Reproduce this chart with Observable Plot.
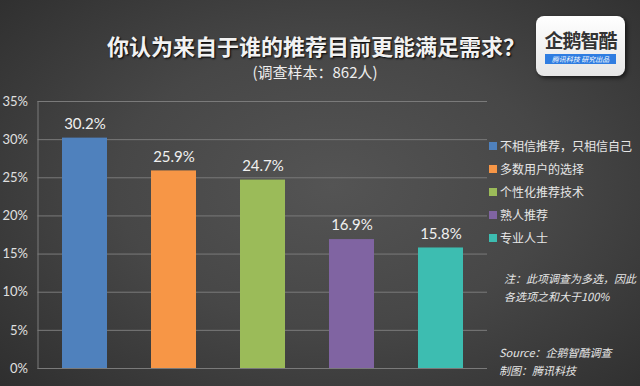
<!DOCTYPE html>
<html><head><meta charset="utf-8">
<script src="https://cdn.jsdelivr.net/npm/d3@7"></script>
<script src="https://cdn.jsdelivr.net/npm/@observablehq/plot@0.6"></script>
<style>
html,body{margin:0;padding:0;}
body{width:640px;height:386px;overflow:hidden;font-family:Lato,"Noto Sans CJK SC",sans-serif;}
#wrap{position:relative;width:640px;height:386px;background:radial-gradient(ellipse 75% 80% at 52% 48%,#545454 0%,#474747 45%,#2c2c2c 100%);}
#chart{position:absolute;left:0;top:0;}
.abs{position:absolute;white-space:nowrap;color:#eee;}
#title{left:0;width:632px;top:29px;text-align:center;font-size:22px;font-weight:bold;font-family:"Noto Sans CJK SC",sans-serif;color:#f2f2f2;text-shadow:1px 1px 2px #000;}
#subtitle{left:0;width:630px;top:61px;text-align:center;font-size:15px;font-family:"Noto Sans CJK SC",sans-serif;color:#eee;}
#legend{left:489px;top:134px;font-size:12px;font-family:"Noto Sans CJK SC",sans-serif;color:#e6e6e6;}
#legend .it{height:23px;line-height:18px;display:flex;align-items:center;}
#legend .sw{width:8px;height:8px;margin-right:3px;display:inline-block;}
.note{font-style:italic;font-size:11px;font-family:"Noto Sans CJK SC",sans-serif;color:#e6e6e6;}
#logo{left:536px;top:16px;width:89px;height:60px;background:linear-gradient(#ffffff,#e6e6e6);border-radius:8px;box-shadow:2px 2px 4px rgba(0,0,0,.6);}
#logo .t{position:absolute;left:0;width:89px;top:13px;text-align:center;font-size:19px;font-weight:bold;color:#333;font-family:"Noto Sans CJK SC",sans-serif;line-height:22px;letter-spacing:-1px;}
#logo .b{position:absolute;left:9px;width:71px;top:38px;height:10px;background:#2f7de1;color:#fff;font-size:7px;line-height:10px;text-align:center;font-style:italic;font-family:"Noto Sans CJK SC",sans-serif;}
</style></head>
<body><div id="wrap"><div id="chart"></div></div>
<script>
const categories = ["不相信推荐，只相信自己","多数用户的选择","个性化推荐技术","熟人推荐","专业人士"];
const values = [30.2, 25.9, 24.7, 16.9, 15.8];
const colors = ["#4F81BD","#F79646","#9BBB59","#8064A2","#3DBDB1"];
const yTicks = [0,5,10,15,20,25,30,35];
const titleText = "你认为来自于谁的推荐目前更能满足需求？";
const subtitleText = "(调查样本：862人)";
const noteLines = ["注：此项调查为多选，因此","各选项之和大于100%"];
const sourceLines = ["Source：企鹅智酷调查","制图：腾讯科技"];
const logoTitle = "企鹅智酷";
const logoBar = "腾讯科技  研究出品";

const data = categories.map((c,i)=>({category:c, value:values[i]}));

const chart = Plot.plot({
  width:640, height:386,
  marginLeft:37.5, marginRight:153, marginTop:101, marginBottom:18,
  style:{background:"transparent", fontFamily:"Lato, 'Noto Sans CJK SC', sans-serif"},
  x:{domain:categories, paddingInner:0.5, paddingOuter:0.25, axis:null},
  y:{domain:[0,35], axis:null},
  color:{domain:categories, range:colors},
  marks:[
    Plot.ruleY(yTicks,{stroke:"#7a7a7a", strokeWidth:1}),
    Plot.frame({anchor:"left", stroke:"#7a7a7a"}),
    Plot.barY(data,{x:"category", y:"value", fill:"category"}),
    Plot.text(data,{x:"category", y:"value", text:d=>d.value.toFixed(1)+"%", dy:-14, fill:"#f0f0f0", fontSize:15}),
    Plot.text(yTicks,{y:d=>d, frameAnchor:"left", dx:-10, textAnchor:"end", text:d=>d+"%", fill:"#e0e0e0", fontSize:13})
  ]
});
document.getElementById("chart").appendChild(chart);

const wrap = document.getElementById("wrap");
function add(id, cls, html, style){const d=document.createElement("div"); if(id) d.id=id; d.className="abs "+(cls||""); d.innerHTML=html; if(style) Object.assign(d.style,style); wrap.appendChild(d); return d;}
add("title","",titleText);
add("subtitle","",subtitleText);
add("legend","",categories.map((c,i)=>`<div class="it"><span class="sw" style="background:${colors[i]}"></span>${c}</div>`).join(""));
add(null,"note",noteLines.join("<br>"),{left:"504px",top:"269px",lineHeight:"18px"});
add(null,"note",sourceLines.join("<br>"),{left:"499px",top:"343px",lineHeight:"18px"});
add("logo","",`<div class="t">${logoTitle}</div><div class="b">${logoBar}</div>`);
</script>
</body></html>
